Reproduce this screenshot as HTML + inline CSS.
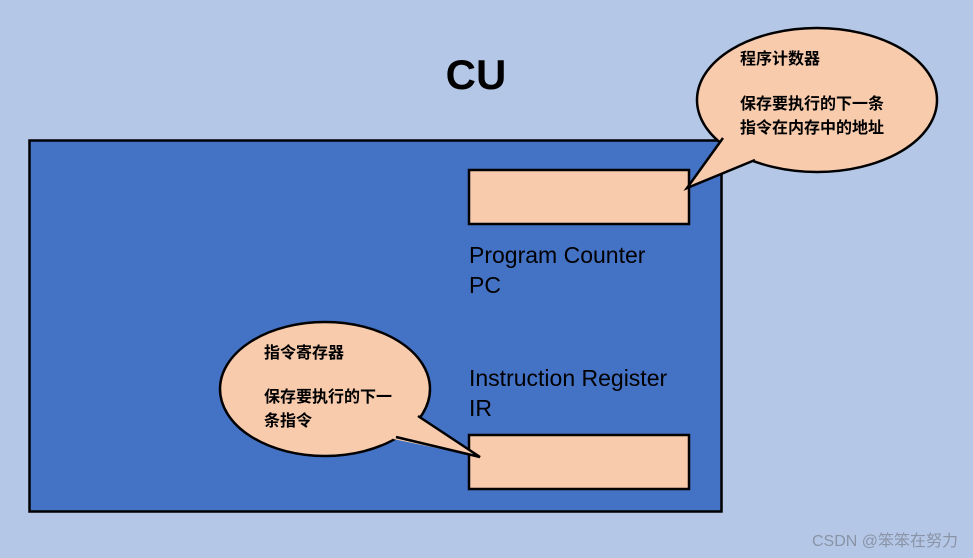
<!DOCTYPE html>
<html><head><meta charset="utf-8"><style>
html,body{margin:0;padding:0;background:#b4c7e7;}
svg{display:block;}
text{font-family:"Liberation Sans","Noto Sans CJK SC",sans-serif;}
</style></head><body>
<svg width="973" height="558" viewBox="0 0 973 558" xmlns="http://www.w3.org/2000/svg">
<rect x="0" y="0" width="973" height="558" fill="#b4c7e7"/>
<text x="476" y="89" font-size="42" font-weight="bold" text-anchor="middle" fill="#000">CU</text>
<rect x="29.5" y="140.5" width="692" height="371" fill="#4472c4" stroke="#000" stroke-width="2.5"/>
<rect x="469" y="170" width="220" height="54" fill="#f8cbad" stroke="#000" stroke-width="2.5"/>
<rect x="469" y="435" width="220" height="54" fill="#f8cbad" stroke="#000" stroke-width="2.5"/>
<text x="469" y="263" font-size="23" fill="#000">Program Counter</text>
<text x="469" y="293" font-size="23" fill="#000">PC</text>
<text x="469" y="386" font-size="23" fill="#000">Instruction Register</text>
<text x="469" y="416" font-size="23" fill="#000">IR</text>
<!-- top bubble -->
<ellipse cx="817" cy="100" rx="120" ry="72" fill="#f8cbad" stroke="#000" stroke-width="2.5"/>
<polygon points="725,136 687,188 757,158" fill="#f8cbad"/>
<polyline points="723,138 687,188 755,160" fill="none" stroke="#000" stroke-width="2.5" stroke-linejoin="miter"/>
<text x="740" y="64" font-size="16" font-weight="bold" fill="#000">程序计数器</text>
<text x="740" y="109" font-size="16" font-weight="bold" fill="#000">保存要执行的下一条</text>
<text x="740" y="133" font-size="16" font-weight="bold" fill="#000">指令在内存中的地址</text>
<!-- bottom bubble -->
<ellipse cx="325" cy="389" rx="105" ry="67" fill="#f8cbad" stroke="#000" stroke-width="2.5"/>
<polygon points="415,413 480,457 393,439" fill="#f8cbad"/>
<polyline points="418,416 480,457 396,437" fill="none" stroke="#000" stroke-width="2.5"/>
<text x="264" y="358" font-size="16" font-weight="bold" fill="#000">指令寄存器</text>
<text x="264" y="402" font-size="16" font-weight="bold" fill="#000">保存要执行的下一</text>
<text x="264" y="426" font-size="16" font-weight="bold" fill="#000">条指令</text>
<text x="958" y="546" font-size="16" text-anchor="end" fill="#8a94a6">CSDN @笨笨在努力</text>
</svg>
</body></html>
